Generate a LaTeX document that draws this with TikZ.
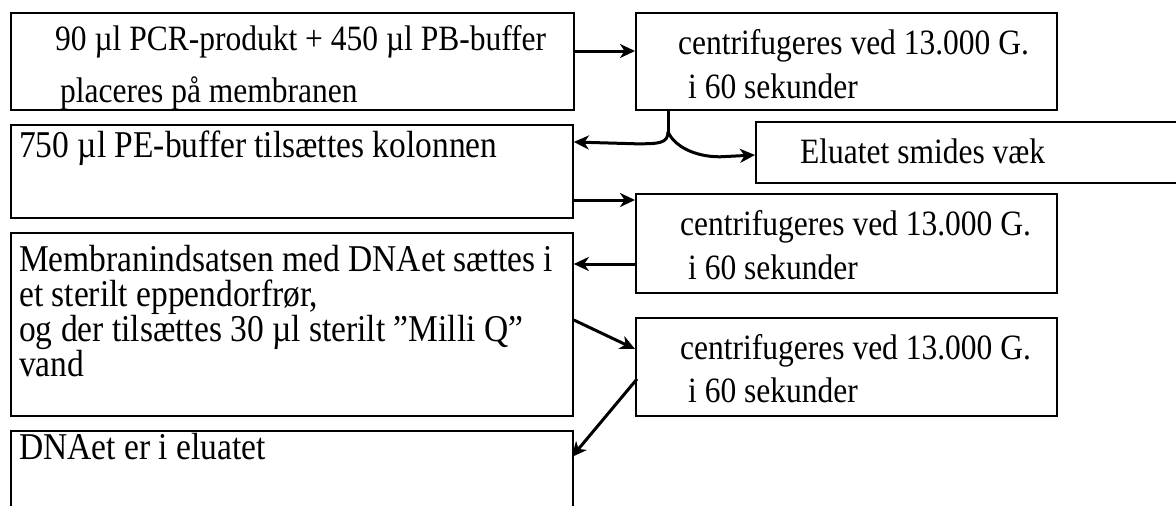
\documentclass[tikz,border=0pt]{standalone}
\usepackage{fontspec}
\usepackage{graphicx}
\setmainfont{Liberation Serif}
\usetikzlibrary{arrows.meta,calc}

% text set slightly taller than its natural shape
\newcommand{\talltext}[1]{\scalebox{1}[1.13]{#1}}

\tikzset{
  stepbox/.style={draw, line width=1.8pt, inner sep=0pt, anchor=north west,
    minimum width=#1},
  txt/.style={inner sep=0pt, anchor=base west, font=\fontsize{31.5}{36}\selectfont},
  bigtxt/.style={txt, font=\fontsize{33.5}{36}\selectfont},
  conn/.style={line width=3pt},
  arr/.style={conn, -{Stealth[length=15pt, width=14pt, inset=4.5pt]}},
}

\begin{document}
\begin{tikzpicture}[x=1pt, y=-1pt]
  \useasboundingbox (0,0) rectangle (1176,506);
  \clip (0,0) rectangle (1176,506);

  % left column
  \node[stepbox=563pt, minimum height=97pt]  (A)   at (10,12)  {};
  \node[stepbox=562pt, minimum height=93pt]  (C)   at (10,124) {};
  \node[stepbox=562pt, minimum height=183pt] (M)   at (10,232) {};
  \node[stepbox=562pt, minimum height=110pt] (DNA) at (10,430) {};

  % right column
  \node[stepbox=421pt, minimum height=97pt]  (B)   at (635,12)  {};
  \node[stepbox=460pt, minimum height=61pt]  (E)   at (755,121) {};
  \node[stepbox=421pt, minimum height=99pt]  (D2)  at (635,193) {};
  \node[stepbox=421pt, minimum height=98pt]  (D3)  at (635,317) {};

  % texts
  \begin{scope}
    \clip ($(A.north west)+(1,1)$) rectangle ($(A.south east)+(-1,-1)$);
    \node[txt] (a1) at (55,50)  {\talltext{90 µl PCR-produkt + 450 µl PB-buffer}};
    \node[txt] (a2) at (60,102) {\talltext{placeres på membranen}};
  \end{scope}
  \node[txt] (b1) at (678,54)  {\talltext{centrifugeres ved 13.000 G.}};
  \node[txt] (b2) at (688,98)  {\talltext{i 60 sekunder}};
  \node[bigtxt] (c1) at (19,157)  {\talltext{750 µl PE-buffer tilsættes kolonnen}};
  \node[txt] (e1) at (800,163) {\talltext{Eluatet smides væk}};
  \node[txt] (d21) at (680,235) {\talltext{centrifugeres ved 13.000 G.}};
  \node[txt] (d22) at (688,279) {\talltext{i 60 sekunder}};
  \node[bigtxt] (m1) at (19,271) {\talltext{Membranindsatsen med DNAet sættes i}};
  \node[bigtxt] (m2) at (19,306) {\talltext{et sterilt eppendorfrør,}};
  \node[bigtxt] (m3) at (19,341) {\talltext{og der tilsættes 30 µl sterilt ”Milli Q”}};
  \node[bigtxt] (m4) at (19,376) {\talltext{vand}};
  \node[txt] (d31) at (680,359) {\talltext{centrifugeres ved 13.000 G.}};
  \node[txt] (d32) at (688,402) {\talltext{i 60 sekunder}};
  \node[bigtxt] (dna1) at (19,459) {\talltext{DNAet er i eluatet}};

  % connectors
  \draw[arr] ($(A.north east)+(0,39)$) -- ($(B.north west)+(0,39)$);

  \coordinate (split) at ($(B.south west)+(33,21)$);
  \draw[conn] ($(B.south west)+(33,0)$) -- (split);
  \draw[arr] (split) .. controls +(0,12) and +(22,0) .. ($(split)+(-32,12)$)
    -- ($(C.north east)+(0,18)$);
  \draw[arr] (split) .. controls +(6,14) and +(-26,0) .. ($(split)+(52,25)$)
    -- ($(E.north west)+(0,34)$);

  \draw[arr] ($(C.north east)+(0,76)$) -- ($(D2.north west)+(0,7)$);
  \draw[arr] ($(D2.north west)+(0,71)$) -- ($(M.north east)+(0,32)$);
  \draw[arr] ($(M.north east)+(0,88)$) -- ($(D3.north west)+(0,32)$);
  \draw[arr] ($(D3.north west)+(2,62)$) -- ($(DNA.north east)+(-2,27)$);
\end{tikzpicture}
\end{document}
